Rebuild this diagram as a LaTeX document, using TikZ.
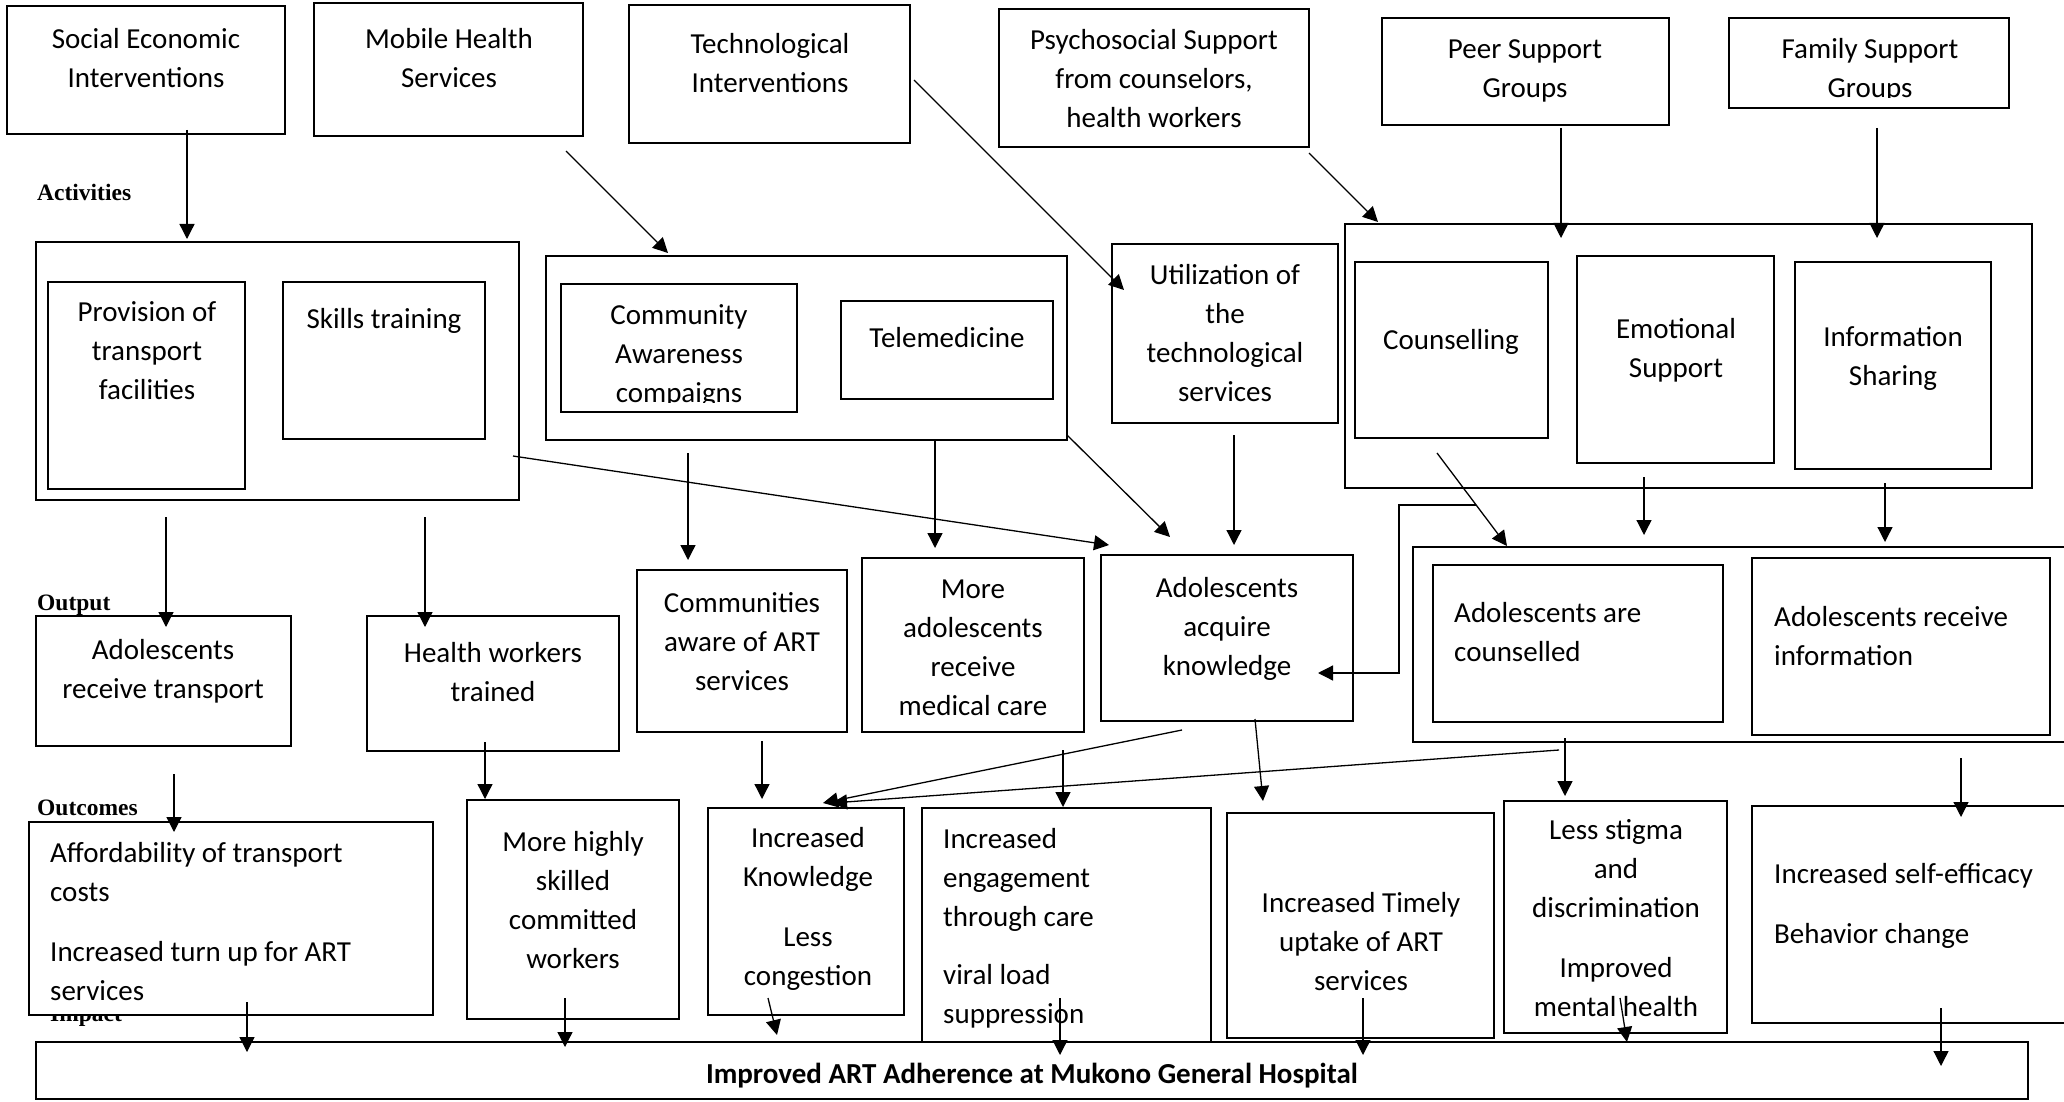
\documentclass[tikz,border=0pt]{standalone}
\usepackage{fontspec}
\setmainfont{Carlito}
\newfontfamily\labfont{Liberation Serif}
\usetikzlibrary{arrows.meta,fit}

% text sizes (1pt = 1 unit of the drawing grid)
\newcommand\bxf{\fontsize{29}{39}\selectfont}
\newcommand\lbf{\labfont\bfseries\fontsize{23.5}{28}\selectfont}

\tikzset{
  bx/.style={draw, line width=2.8pt, fill=white, inner sep=0pt, outer sep=0pt},
  ct/.style={font=\bxf, align=center, anchor=north, inner sep=0pt, yshift=27.3pt},
  lt/.style={font=\bxf, align=left, anchor=north west, inner sep=0pt, yshift=27.3pt},
  lab/.style={font=\lbf, anchor=base west, inner sep=0pt},
  arr/.style={line width=1.3pt, -{Triangle[length=15pt,width=15pt]}},
  ln/.style={line width=1.3pt}
}

\begin{document}
\begin{tikzpicture}[x=1pt,y=-1pt]
\useasboundingbox (0,0) rectangle (2064,1102);

% ---------- stage labels ----------
\node[lab] (lact) at (37,201) {Activities};
\node[lab] (lout) at (37,610) {Output};
\node[lab] (loc)  at (37,815) {Outcomes};
\node[lab] (limp) at (50,1021) {Impact};

% ---------- interventions ----------
\node[bx, fit={(7,6) (285,134)}] (se) {};
\node[bx, fit={(314,3) (583,136)}] (mh) {};
\node[bx, fit={(629,5) (910,143)}] (ti) {};
\node[bx, fit={(999,9) (1309,147)}] (ps) {};
\node[bx, fit={(1382,18) (1669,125)}] (pg) {};
\node[bx, fit={(1729,18) (2009,108)}] (fg) {};

\node[ct] (se-t) at (146,48) {\strut Social Economic\\Interventions};
\node[ct] (mh-t) at (449,48) {\strut Mobile Health\\Services};
\node[ct] (ti-t) at (770,53) {\strut Technological\\Interventions};
\node[ct] (ps-t) at (1154,49) {\strut Psychosocial Support\\from counselors,\\health workers};
\node[ct] (pg-t) at (1525,58) {\strut Peer Support\\Groups};
\begin{scope}
  \clip (1731,20) rectangle (2007,98);
  \node[ct] (fg-t) at (1870,58) {\strut Family Support\\Groups};
\end{scope}

% ---------- activities ----------
\node[bx, fit={(36,242) (519,500)}] (act1) {};
\node[bx, fit={(48,282) (245,489)}] (prov) {};
\node[bx, fit={(283,282) (485,439)}] (skill) {};
\node[bx, fit={(546,256) (1067,440)}] (act2) {};
\node[bx, fit={(561,284) (797,412)}] (comm) {};
\node[bx, fit={(841,301) (1053,399)}] (tele) {};
\node[bx, fit={(1112,244) (1338,423)}] (util) {};
\node[bx, fit={(1345,224) (2032,488)}] (act3) {};
\node[bx, fit={(1355,262) (1548,438)}] (coun) {};
\node[bx, fit={(1577,256) (1774,463)}] (emo) {};
\node[bx, fit={(1795,262) (1991,469)}] (info) {};

\node[ct] (prov-t) at (147,321) {\strut Provision of\\transport\\facilities};
\node[ct] (skill-t) at (384,328) {\strut Skills training};
\begin{scope}
  \clip (563,286) rectangle (795,402);
  \node[ct] (comm-t) at (679,324) {\strut Community\\Awareness\\compaigns};
\end{scope}
\node[ct] (tele-t) at (947,347) {\strut Telemedicine};
\node[ct] (util-t) at (1225,284) {\strut Utilization of\\the\\technological\\services};
\node[ct] (coun-t) at (1451,349) {\strut Counselling};
\node[ct] (emo-t) at (1676,338) {\strut Emotional\\Support};
\node[ct] (info-t) at (1893,346) {\strut Information\\Sharing};

% ---------- outputs ----------
\node[bx, fit={(36,616) (291,746)}] (out1) {};
\node[bx, fit={(367,616) (619,751)}] (out2) {};
\node[bx, fit={(637,570) (847,732)}] (out3) {};
\node[bx, fit={(862,558) (1084,732)}] (out4) {};
\node[bx, fit={(1101,555) (1353,721)}] (out5) {};
\node[bx, fit={(1413,547) (2075,742)}] (out6) {};
\node[bx, fit={(1433,565) (1723,722)}] (out6a) {};
\node[bx, fit={(1752,558) (2050,735)}] (out6b) {};

\node[ct] (out1-t) at (163,659) {\strut Adolescents\\receive transport};
\node[ct] (out2-t) at (493,662) {\strut Health workers\\trained};
\node[ct] (out3-t) at (742,612) {\strut Communities\\aware of ART\\services};
\node[ct] (out4-t) at (973,598) {\strut More\\adolescents\\receive\\medical care};
\node[ct] (out5-t) at (1227,597) {\strut Adolescents\\acquire\\knowledge};
\node[lt] (out6a-t) at (1454,622) {\strut Adolescents are\\counselled};
\node[lt] (out6b-t) at (1774,626) {\strut Adolescents receive\\information};

% ---------- outcomes ----------
\node[bx, fit={(29,822) (433,1015)}] (oc1) {};
\node[bx, fit={(467,800) (679,1019)}] (oc2) {};
\node[bx, fit={(708,808) (904,1015)}] (oc3) {};
\node[bx, fit={(922,808) (1211,1042)}] (oc4) {};
\node[bx, fit={(1227,813) (1494,1038)}] (oc5) {};
\node[bx, fit={(1504,801) (1727,1033)}] (oc6) {};
\node[bx, fit={(1752,806) (2075,1023)}] (oc7) {};

\node[lt] (oc1-ta) at (50,862) {\strut Affordability of transport\\costs};
\node[lt] (oc1-tb) at (50,961) {\strut Increased turn up for ART\\services};
\node[ct] (oc2-t) at (573,851) {\strut More highly\\skilled\\committed\\workers};
\node[ct] (oc3-ta) at (808,847) {\strut Increased\\Knowledge};
\node[ct] (oc3-tb) at (808,946) {\strut Less\\congestion};
\node[lt] (oc4-ta) at (943,848) {\strut Increased\\engagement\\through care};
\node[lt] (oc4-tb) at (943,984) {\strut viral load\\suppression};
\node[ct] (oc5-t) at (1361,912) {\strut Increased Timely\\uptake of ART\\services};
\node[ct] (oc6-ta) at (1616,839) {\strut Less stigma\\and\\discrimination};
\node[ct] (oc6-tb) at (1616,977) {\strut Improved\\mental health};
\node[lt] (oc7-ta) at (1774,883) {\strut Increased self-efficacy};
\node[lt] (oc7-tb) at (1774,943) {\strut Behavior change};

% ---------- impact ----------
\node[bx, fit={(36,1042) (2028,1099)}] (imp) {};
\node[font=\bxf\bfseries, anchor=base, inner sep=0pt] (imp-t) at (1032,1083)
  {Improved ART Adherence at Mukono General Hospital};

% ---------- connector end points ----------
\coordinate (c1a) at (187,130);   \coordinate (c1b) at (187,239);
\coordinate (c2a) at (566,151);   \coordinate (c2b) at (668,253);
\coordinate (c3a) at (914,80);    \coordinate (c3b) at (1124,290);
\coordinate (c4a) at (1309,153);  \coordinate (c4b) at (1378,222);
\coordinate (c5a) at (1561,128);  \coordinate (c5b) at (1561,238);
\coordinate (c6a) at (1877,128);  \coordinate (c6b) at (1877,238);
\coordinate (c7a) at (166,517);   \coordinate (c7b) at (166,627);
\coordinate (c8a) at (425,517);   \coordinate (c8b) at (425,627);
\coordinate (c9a) at (513,456);   \coordinate (c9b) at (1109,545);
\coordinate (c10a) at (688,453);  \coordinate (c10b) at (688,560);
\coordinate (c11a) at (935,439);  \coordinate (c11b) at (935,548);
\coordinate (c12a) at (1067,435); \coordinate (c12b) at (1170,537);
\coordinate (c13a) at (1234,435); \coordinate (c13b) at (1234,545);
\coordinate (c14a) at (1437,453); \coordinate (c14b) at (1507,546);
\coordinate (c15a) at (1476,505); \coordinate (c15b) at (1399,505);
\coordinate (c15c) at (1399,673); \coordinate (c15d) at (1318,673);
\coordinate (c16a) at (1644,477); \coordinate (c16b) at (1644,535);
\coordinate (c17a) at (1885,483); \coordinate (c17b) at (1885,542);
\coordinate (c18a) at (174,774);  \coordinate (c18b) at (174,832);
\coordinate (c19a) at (485,742);  \coordinate (c19b) at (485,799);
\coordinate (c20a) at (762,741);  \coordinate (c20b) at (762,799);
\coordinate (c21a) at (1063,750); \coordinate (c21b) at (1063,807);
\coordinate (c22a) at (1182,730); \coordinate (c22b) at (823,803);
\coordinate (c23a) at (1559,750); \coordinate (c23b) at (832,803);
\coordinate (c24a) at (1255,719); \coordinate (c24b) at (1263,801);
\coordinate (c25a) at (1565,738); \coordinate (c25b) at (1565,796);
\coordinate (c26a) at (1961,758); \coordinate (c26b) at (1961,817);
\coordinate (c27a) at (247,1002); \coordinate (c27b) at (247,1052);
\coordinate (c28a) at (565,998);  \coordinate (c28b) at (565,1047);
\coordinate (c29a) at (768,998);  \coordinate (c29b) at (777,1035);
\coordinate (c30a) at (1060,998); \coordinate (c30b) at (1060,1055);
\coordinate (c31a) at (1363,998); \coordinate (c31b) at (1363,1055);
\coordinate (c32a) at (1620,998); \coordinate (c32b) at (1627,1042);
\coordinate (c33a) at (1941,1008); \coordinate (c33b) at (1941,1066);

% ---------- connectors ----------
\draw[arr] (c1a) -- (c1b);
\draw[arr] (c2a) -- (c2b);
\draw[arr] (c3a) -- (c3b);
\draw[arr] (c4a) -- (c4b);
\draw[arr] (c5a) -- (c5b);
\draw[arr] (c6a) -- (c6b);
\draw[arr] (c7a) -- (c7b);
\draw[arr] (c8a) -- (c8b);
\draw[arr] (c9a) -- (c9b);
\draw[arr] (c10a) -- (c10b);
\draw[arr] (c11a) -- (c11b);
\draw[arr] (c12a) -- (c12b);
\draw[arr] (c13a) -- (c13b);
\draw[arr] (c14a) -- (c14b);
\draw[arr] (c15a) -- (c15b) -- (c15c) -- (c15d);
\draw[arr] (c16a) -- (c16b);
\draw[arr] (c17a) -- (c17b);
\draw[arr] (c18a) -- (c18b);
\draw[arr] (c19a) -- (c19b);
\draw[arr] (c20a) -- (c20b);
\draw[arr] (c21a) -- (c21b);
\draw[arr] (c22a) -- (c22b);
\draw[arr] (c23a) -- (c23b);
\draw[arr] (c24a) -- (c24b);
\draw[arr] (c25a) -- (c25b);
\draw[arr] (c26a) -- (c26b);
\draw[arr] (c27a) -- (c27b);
\draw[arr] (c28a) -- (c28b);
\draw[arr] (c29a) -- (c29b);
\draw[arr] (c30a) -- (c30b);
\draw[arr] (c31a) -- (c31b);
\draw[arr] (c32a) -- (c32b);
\draw[arr] (c33a) -- (c33b);
\end{tikzpicture}
\end{document}
